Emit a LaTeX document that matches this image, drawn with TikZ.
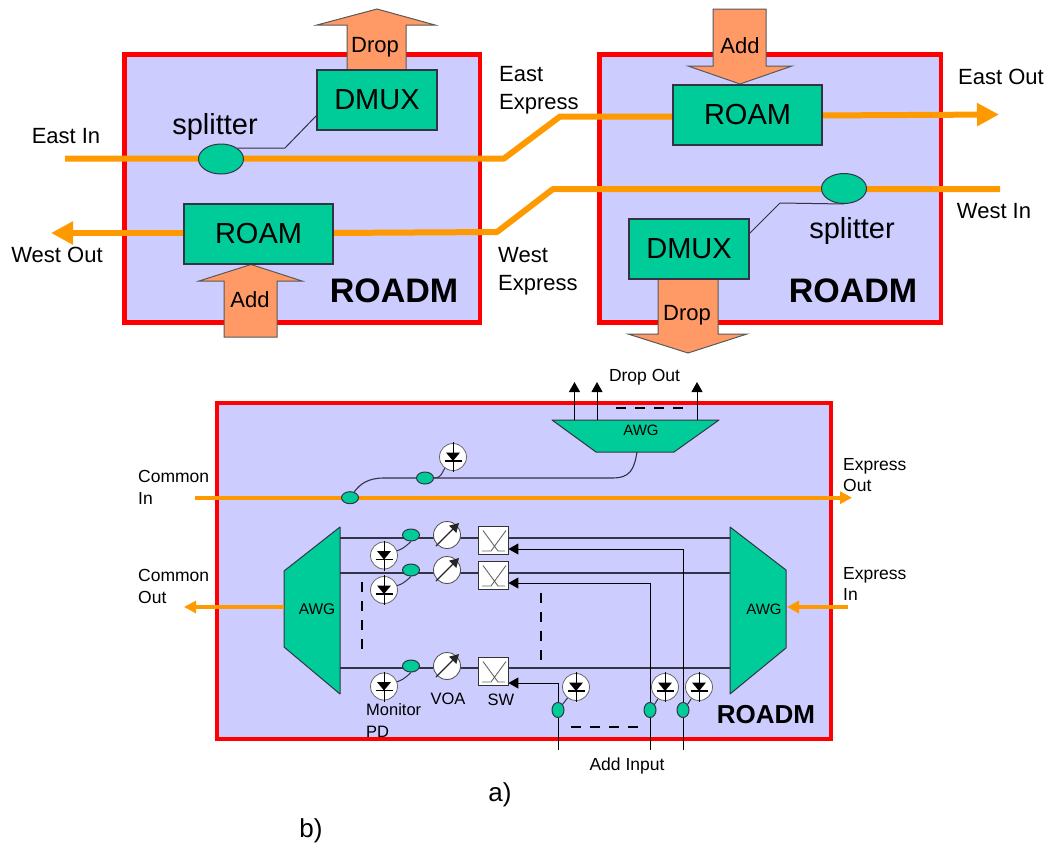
\documentclass[tikz,border=0pt]{standalone}
\usepackage{fontspec}
\setmainfont{Liberation Sans}
\usetikzlibrary{arrows.meta,shapes.geometric,calc}
\definecolor{rd}{HTML}{FF0000}
\definecolor{bg}{HTML}{CCCCFF}
\definecolor{grn}{HTML}{00CC99}
\definecolor{org}{HTML}{FF9900}
\definecolor{sal}{HTML}{FF9966}
\definecolor{ln}{HTML}{333344}
\newcommand{\fs}[1]{\fontsize{#1}{#1}\selectfont}
\newcommand{\pdiode}[3]{%
  \node[pdc] (#1) at (#2,#3) {};
  \fill[black] (#2-7,#3-4.5) -- (#2+7,#3-4.5) -- (#2,#3+4) -- cycle;
  \draw[black,line width=1.4pt] (#2-8.5,#3+4) -- (#2+8.5,#3+4);
  \draw[black,line width=0.9pt] (#2,#3-15) -- (#2,#3+15);}
\newcommand{\voa}[3]{%
  \node[voac] (#1) at (#2,#3) {};
  \draw[black!85,line width=1.3pt,-{Triangle[length=9pt,width=10pt]}] (#2-11,#3+11) -- (#2+12,#3-12);}
\newcommand{\swx}[3]{%
  \node[swbox] (#1) at (#2,#3) {};
  \draw[black!60,line width=.9pt] (#2-10,#3-10) -- (#2+5,#3+10.5) -- (#2+12,#3+10.5)
     (#2+13,#3-10) -- (#2-2,#3+10.5) -- (#2-11,#3+10.5);}
\tikzset{
 x=1pt,y=-1pt,
 roadmbox/.style={draw=rd,fill=bg,line width=4.5pt,rectangle,inner sep=0pt},
 optline/.style={draw=org,line width=6pt,line join=round},
 optthin/.style={draw=org,line width=4pt},
 optarrow/.style={-{Triangle[length=22pt,width=22pt]}},
 thinarrow/.style={-{Triangle[length=10pt,width=11pt]}},
 smallarrow/.style={-{Triangle[length=12pt,width=12pt]}},
 greenbox/.style={draw=ln,fill=grn,line width=1.2pt,rectangle,inner sep=0pt,font=\fs{29}},
 blockarrow/.style={draw=black!65,fill=sal,line width=1pt},
 splitter/.style={ellipse,draw=ln,fill=grn,line width=1pt,inner sep=0pt},
 conn/.style={draw=ln,line width=1pt},
 sig/.style={draw=ln,line width=1.1pt},
 wire/.style={draw=black,line width=1pt},
 dashline/.style={draw=black,line width=2pt,dash pattern=on 10pt off 9pt},
 awg/.style={draw=ln,fill=grn,line width=1pt,line join=round},
 pdc/.style={circle,draw=black!60,fill=white,minimum size=27pt,inner sep=0pt,line width=.8pt},
 voac/.style={circle,draw=black!70,fill=white,minimum size=27pt,inner sep=0pt,line width=.8pt},
 swbox/.style={rectangle,draw=black!80,fill=white,minimum width=30pt,minimum height=28pt,inner sep=0pt,line width=.8pt},
 lab/.style={inner sep=0pt,font=\fs{22},align=left},
 small/.style={inner sep=0pt,font=\fs{17.5},align=left},
}
\begin{document}
\begin{tikzpicture}
\useasboundingbox (0,0) rectangle (1049,846);
% ---------- top boxes
\node[roadmbox,minimum width=355.5pt,minimum height=268pt] (b1) at (302.25,188.5) {};
\node[roadmbox,minimum width=341.5pt,minimum height=268pt] (b2) at (770.25,188.5) {};
% coordinates
\coordinate (ein) at (65,158.5);
\coordinate (eb1) at (504,158.5);
\coordinate (eb2) at (560,116.5);
\coordinate (eout) at (999,114.5);
\coordinate (win) at (1000,189);
\coordinate (wb1) at (553,189);
\coordinate (wb2) at (497,232);
\coordinate (wout) at (51,233);
\path[optline] (ein) -- (eb1) -- (eb2) -- (680,116.5);
\path[optline,optarrow] (815,115.5) -- (eout);
\path[optline] (win) -- (wb1) -- (wb2) -- (330,233);
\path[optline,optarrow] (190,233) -- (wout);
% block arrows
\path[blockarrow] (347,72) -- (347,25) -- (317,25) -- (377,9) -- (435,25) -- (406,25) -- (406,72) -- cycle;
\path[blockarrow] (224,337) -- (224,281) -- (199,281) -- (251,264.5) -- (302,281) -- (277,281) -- (277,337) -- cycle;
\path[blockarrow] (713,9) -- (713,66) -- (688,66) -- (740,84) -- (792,66) -- (766,66) -- (766,9) -- cycle;
\path[blockarrow] (658,277) -- (658,334) -- (628,334) -- (688,353) -- (747,334) -- (718,334) -- (718,277) -- cycle;
\node[lab] (tdrop1) at (375,47) {Drop};
\node[lab] (tadd1) at (250,300) {Add};
\node[lab] (tadd2) at (740,46) {Add};
\node[lab] (tdrop2) at (687,315) {Drop};
% green boxes
\node[greenbox,minimum width=120pt,minimum height=60pt] (dmux1) at (377,100) {DMUX};
\node[greenbox,minimum width=149pt,minimum height=60pt] (roam1) at (258.5,234) {ROAM};
\node[greenbox,minimum width=149pt,minimum height=60pt] (roam2) at (747.5,115) {ROAM};
\node[greenbox,minimum width=120pt,minimum height=60pt] (dmux2) at (689,249) {DMUX};
\node[splitter,minimum width=45pt,minimum height=30pt] (sp1) at (221,159) {};
\node[splitter,minimum width=45pt,minimum height=30pt] (sp2) at (844,188.5) {};
\coordinate (s1b) at (285,148);
\coordinate (s1c) at (317,115);
\coordinate (s2b) at (780,203);
\coordinate (s2c) at (748,235);
\draw[conn] (sp1.north east) -- (s1b) -- (s1c);
\draw[conn] (sp2.south) -- (s2b) -- (s2c);
% top texts
\node[lab] (t1) at (66,136) {East In};
\node[lab] (t2) at (57,255) {West Out};
\node[lab,font=\fs{29}] (t3) at (215,127) {splitter};
\node[lab,font=\fs{29}] (t4) at (852,231) {splitter};
\node[lab,anchor=north west] (t5) at (499,66) {East\\[6.5pt]Express};
\node[lab,anchor=north west] (t6) at (498,247) {West\\[6.5pt]Express};
\node[lab] (t7) at (1001,77) {East Out};
\node[lab] (t8) at (994,211) {West In};
\node[lab,font=\bfseries\fs{34}] (r1) at (394,291) {ROADM};
\node[lab,font=\bfseries\fs{34}] (r2) at (853,291) {ROADM};
% ---------- bottom box
\node[roadmbox,minimum width=613.4pt,minimum height=335.7pt,line width=4pt] (b3) at (524,570.85) {};
% AWGs
\path[awg] (552,420) -- (719,420) -- (674,452) -- (596,452) -- cycle;
\node[inner sep=0pt,font=\fs{15}] (awgt) at (641,430) {AWG};
\path[awg] (284,571) -- (340,527) -- (340,694) -- (284,647) -- cycle;
\node[inner sep=0pt,font=\fs{15.5}] (awgl) at (317,609) {AWG};
\path[awg] (730,527) -- (786,570) -- (786,648) -- (730,694) -- cycle;
\node[inner sep=0pt,font=\fs{15}] (awgr) at (764,609) {AWG};
% coordinates for lower wires
\coordinate (ci) at (195,497.7);
\coordinate (eo) at (852,497.7);
\coordinate (co0) at (284,607);
\coordinate (co) at (184,607);
\coordinate (xi0) at (848,607);
\coordinate (xi) at (787,607);
\path[optthin,smallarrow] (ci) -- (eo);
\path[optthin,smallarrow] (co0) -- (co);
\path[optthin,smallarrow] (xi0) -- (xi);
% signal lines
\draw[sig] (340,538) -- (730,538);
\draw[sig] (340,573) -- (730,573);
\draw[sig] (340,668) -- (730,668);
% splitter on express
\node[splitter,minimum width=17pt,minimum height=12pt] (t0) at (350,497.7) {};
\node[splitter,minimum width=17pt,minimum height=12pt] (t1b) at (425,478) {};
\coordinate (c1) at (384,478);
\coordinate (c2) at (612,478);
\coordinate (c3) at (637,452);
\draw[sig] (t0) .. controls (360,484) and (368,478) .. (c1) -- (t1b) -- (c2) .. controls (630,478) and (634,470) .. (c3);
\pdiode{pd0}{453}{457}
\draw[conn] (t1b.east) .. controls (442,478) and (442,472) .. (pd0);
% drop outs
\coordinate (d1) at (574.5,420);\coordinate (d1e) at (574.5,382);
\coordinate (d2) at (597,420);\coordinate (d2e) at (597,382);
\coordinate (d3) at (697,420);\coordinate (d3e) at (697,382);
\draw[wire,thinarrow] (d1) -- (d1e);
\draw[wire,thinarrow] (d2) -- (d2e);
\draw[wire,thinarrow] (d3) -- (d3e);
\coordinate (da) at (616,408);\coordinate (db) at (688,408);
\draw[dashline] (da) -- (db);
% channel devices
\foreach \n/\y in {a/535,b/570,c/666}{
  \node[splitter,minimum width=17pt,minimum height=12pt] (tap\n) at (411,\y) {};
}
\pdiode{pda}{384}{555.5}
\pdiode{pdb}{384}{590}
\pdiode{pdc1}{384}{686.5}
\draw[conn] (tapa.south) .. controls (404,548) and (402,549) .. (pda);
\draw[conn] (tapb.south) .. controls (404,583) and (402,584) .. (pdb);
\draw[conn] (tapc.south) .. controls (404,679) and (402,680) .. (pdc1);
\voa{va}{447}{535}
\voa{vb}{447}{570}
\voa{vc}{447}{666}
\swx{swa}{493}{540.5}
\swx{swb}{493}{575.5}
\swx{swc}{493}{671.5}
% add inputs
\coordinate (ia) at (683,750);\coordinate (ia2) at (683,549);
\coordinate (ib) at (650,750);\coordinate (ib2) at (650,583);
\coordinate (ic) at (558,750);\coordinate (ic2) at (558,683);
\draw[wire,thinarrow] (ia) -- (ia2) -- (swa.east |- ia2);
\draw[wire,thinarrow] (ib) -- (ib2) -- (swb.east |- ib2);
\draw[wire,thinarrow] (ic) -- (ic2) -- (swc.east |- ic2);
\node[splitter,minimum width=12pt,minimum height=15pt] (ta) at (558,710) {};
\node[splitter,minimum width=12pt,minimum height=15pt] (tb) at (650,710) {};
\node[splitter,minimum width=12pt,minimum height=15pt] (tc) at (683,710) {};
\pdiode{pdd}{576}{687}
\pdiode{pde}{665}{687}
\pdiode{pdf}{699}{687}
\draw[conn] (ta.north east) -- (pdd);
\draw[conn] (tb.north east) -- (pde);
\draw[conn] (tc.north east) -- (pdf);
\coordinate (e1) at (571,727);\coordinate (e2) at (642,727);
\draw[dashline] (e1) -- (e2);
\coordinate (e3) at (362,582);\coordinate (e4) at (362,653);
\draw[dashline] (e3) -- (e4);
\coordinate (e5) at (540.5,593);\coordinate (e6) at (540.5,660);
\draw[dashline] (e5) -- (e6);
% lower text
\node[small] (l1) at (644.5,377) {Drop Out};
\node[small,anchor=north west] (l2) at (138,470.5) {Common\\[4pt]In};
\node[small,anchor=north west] (l3) at (138,569.5) {Common\\[4pt]Out};
\node[small,anchor=north west] (l4) at (843,458) {Express\\[4pt]Out};
\node[small,anchor=north west] (l5) at (843,567) {Express\\[4pt]In};
\node[inner sep=0pt,font=\fs{16.5},align=left,anchor=north west] (l6) at (366,703.5) {Monitor\\[5pt]PD};
\node[inner sep=0pt,font=\fs{16.5}] (l7) at (448,699) {VOA};
\node[inner sep=0pt,font=\fs{16.5}] (l8) at (501,700) {SW};
\node[small] (l9) at (627,766) {Add Input};
\node[inner sep=0pt,font=\bfseries\fs{26}] (r3) at (766,715) {ROADM};
\node[inner sep=0pt,font=\fs{26}] (ta1) at (500,795) {a)};
\node[inner sep=0pt,font=\fs{26}] (tb1) at (311,831) {b)};
\end{tikzpicture}
\end{document}
